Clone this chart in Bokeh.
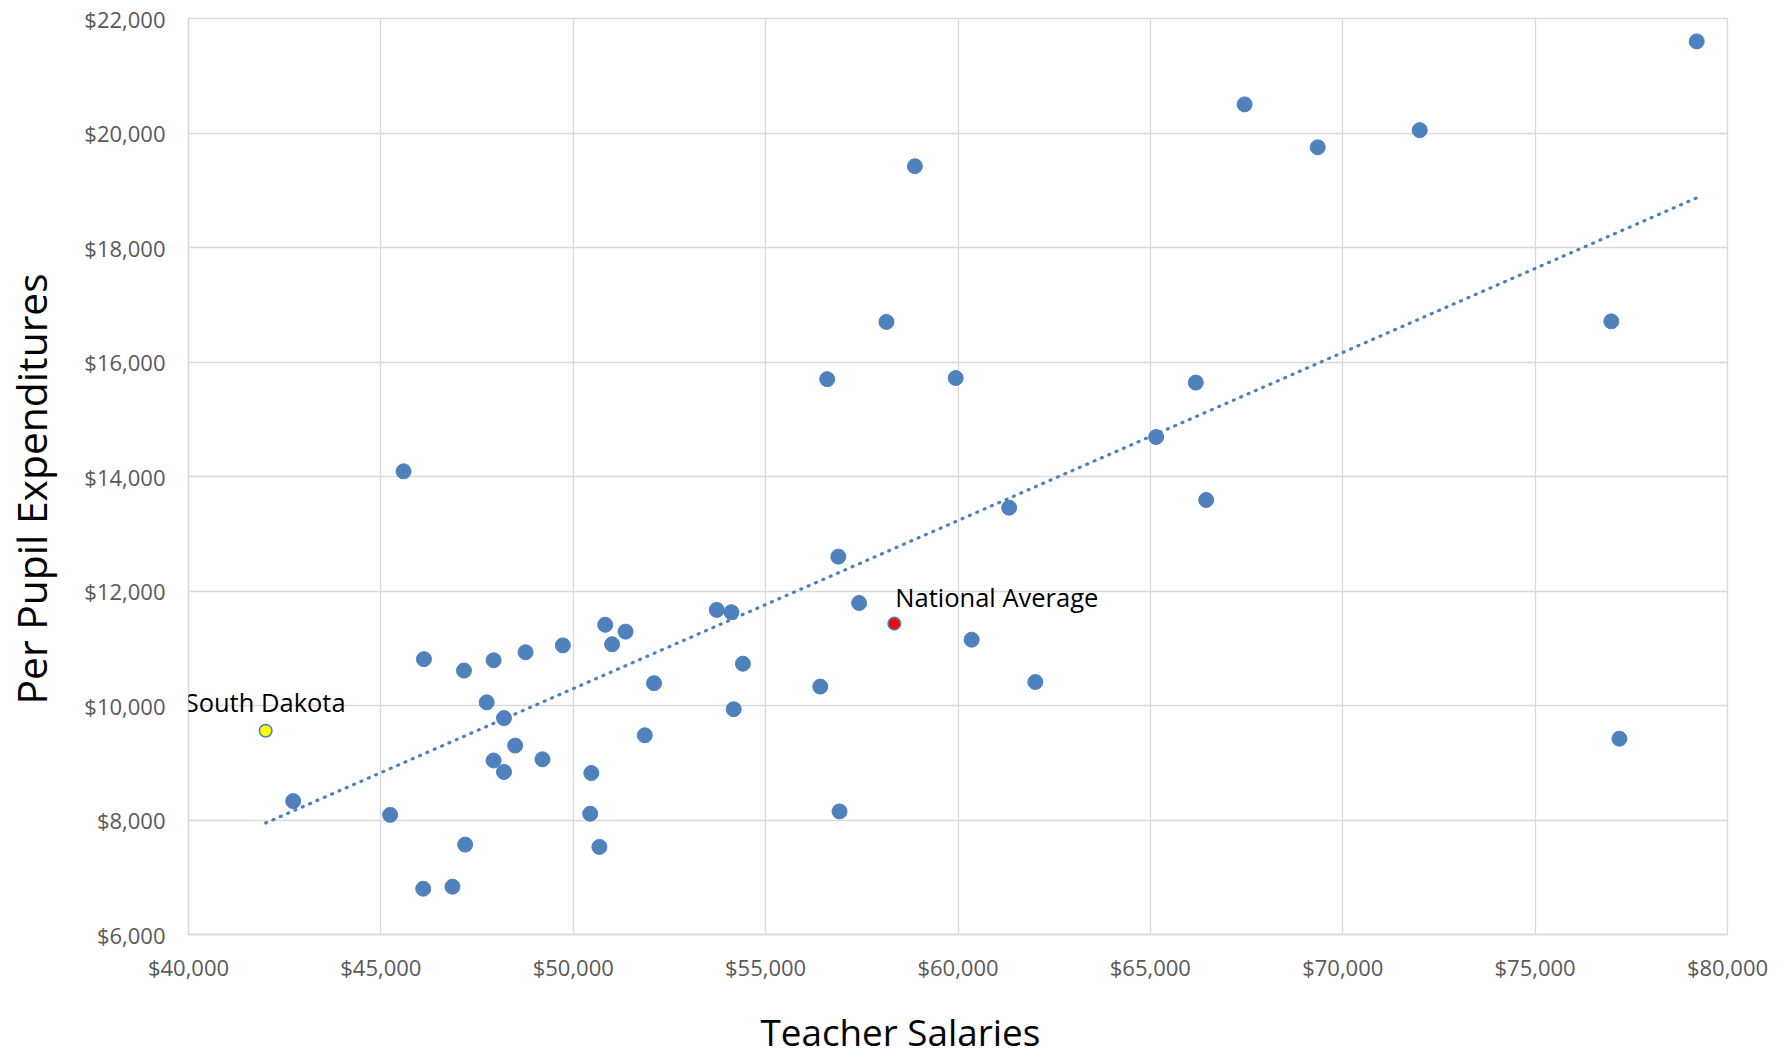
import numpy as np
from bokeh.plotting import figure
from bokeh.models import Range1d, FixedTicker, NumeralTickFormatter, Label, Title
from bokeh.embed import file_html
from bokeh.resources import INLINE

# ---- data ----
salaries = [79200, 67450, 69350, 72000, 58880, 58140, 76980, 56600, 59940, 66180,
            65150, 45590, 66450, 61330, 56890, 57430, 53730, 54110, 50830, 51360,
            51010, 49730, 48760, 46120, 47930, 47160, 54410, 60355, 52100, 62010,
            56420, 47750, 54170, 48200, 51860, 77190, 48490, 47930, 49200, 48200,
            50470, 42720, 45240, 50440, 56920, 47190, 50680, 46100, 46860]
expend = [21600, 20500, 19750, 20050, 19420, 16700, 16710, 15700, 15720, 15640,
          14690, 14090, 13590, 13455, 12600, 11790, 11670, 11630, 11410, 11290,
          11070, 11050, 10930, 10810, 10790, 10610, 10730, 11150, 10390, 10410,
          10330, 10055, 9935, 9780, 9480, 9420, 9300, 9040, 9060, 8840,
          8820, 8330, 8090, 8110, 8150, 7570, 7530, 6800, 6835]

sd_salary, sd_expend = [42005], [9560]
na_salary, na_expend = [58345], [11430]

x_ticks = [40000, 45000, 50000, 55000, 60000, 65000, 70000, 75000, 80000]
y_ticks = [6000, 8000, 10000, 12000, 14000, 16000, 18000, 20000, 22000]

FONT = "Open Sans"
BLUE = "#4F81BD"

p = figure(width=1777, height=1057, output_backend="svg", toolbar_location=None,
           x_range=Range1d(40000, 80000), y_range=Range1d(6000, 22000),
           min_border_left=188, min_border_right=50, min_border_top=18,
           min_border_bottom=123)
p.background_fill_color = "white"
p.border_fill_color = "white"
p.outline_line_color = "#D9D9D9"
p.outline_line_width = 1.3

for ax in (p.xaxis[0], p.yaxis[0]):
    ax.major_tick_line_color = None
    ax.minor_tick_line_color = None
    ax.axis_line_color = "#D9D9D9"
    ax.axis_line_width = 1.3
    ax.major_label_text_font = FONT
    ax.major_label_text_font_size = "22px"
    ax.major_label_text_color = "#595959"
    ax.formatter = NumeralTickFormatter(format="$0,0")
    # tiny invisible spacer label to set the gap before the axis titles
    ax.axis_label = "\u00a0"
    ax.axis_label_text_font_size = "2px"
    ax.axis_label_text_color = "white"

p.xaxis[0].ticker = FixedTicker(ticks=x_ticks)
p.yaxis[0].ticker = FixedTicker(ticks=y_ticks)
p.xaxis[0].major_label_standoff = 11
p.yaxis[0].major_label_standoff = 17
p.xaxis[0].axis_label_standoff = 15
p.yaxis[0].axis_label_standoff = 16

p.xgrid.grid_line_color = "#D9D9D9"
p.ygrid.grid_line_color = "#D9D9D9"
p.xgrid.grid_line_width = 1.3
p.ygrid.grid_line_width = 1.3

# linear trend line over all points
all_x = np.array(salaries + sd_salary + na_salary, dtype=float)
all_y = np.array(expend + sd_expend + na_expend, dtype=float)
m, b = np.polyfit(all_x, all_y, 1)
tx = np.array([all_x.min(), all_x.max()])
p.line(tx, m * tx + b, line_color=BLUE, line_width=3.2, line_dash="1 7",
       line_cap="round")

p.scatter(salaries, expend, size=15, fill_color=BLUE, line_color=BLUE, line_width=1)
p.scatter(sd_salary, sd_expend, size=12.5, fill_color="#FFFF00", line_color=BLUE, line_width=1.6)
p.scatter(na_salary, na_expend, size=12.5, fill_color="#FF0000", line_color=BLUE, line_width=1.6)

p.add_layout(Label(x=sd_salary[0], y=sd_expend[0], text="South Dakota", x_offset=-81,
                   y_offset=29, text_font=FONT, text_font_size="25.5px",
                   text_color="black", text_align="left", text_baseline="alphabetic"))
p.add_layout(Label(x=na_salary[0], y=na_expend[0], text="National Average", x_offset=1,
                   y_offset=27, text_font=FONT, text_font_size="25.5px",
                   text_color="black", text_align="left", text_baseline="alphabetic"))

# axis titles
p.add_layout(Title(text="Teacher Salaries", align="left", offset=572, standoff=0,
                   vertical_align="bottom",
                   text_font=FONT, text_font_size="36.8px", text_font_style="normal",
                   text_color="black"), "below")
p.add_layout(Title(text="Per Pupil Expenditures", align="left", offset=230, standoff=0,
                   vertical_align="top",
                   text_font=FONT, text_font_size="40.8px", text_font_style="normal",
                   text_color="black"), "left")

open("out.html", "w").write(file_html(p, INLINE))
